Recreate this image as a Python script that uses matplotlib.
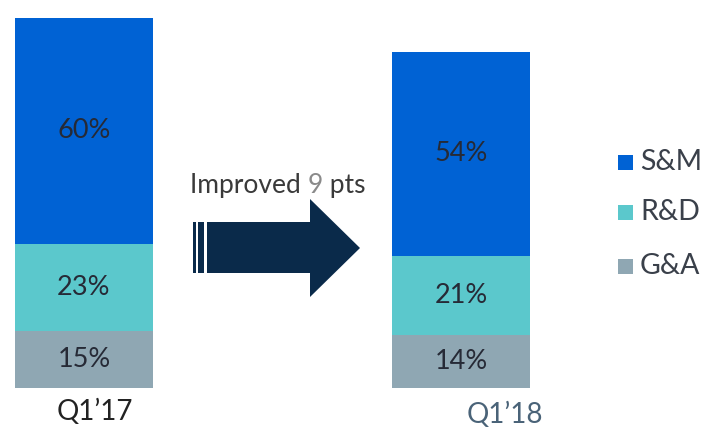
import matplotlib
matplotlib.use("Agg")
import matplotlib.pyplot as plt
from matplotlib.patches import Polygon, Rectangle
from matplotlib.transforms import blended_transform_factory

plt.rcParams['font.family'] = ['Lato', 'DejaVu Sans']

periods = ["Q1\u201917", "Q1\u201918"]
segments = ["G&A", "R&D", "S&M"]
gna = [15, 14]
rnd = [23, 21]
snm = [60, 54]
seg_values = [gna, rnd, snm]
seg_colors = ["#8FA7B3", "#5BC8CC", "#0062D4"]
period_colors = ["#222222", "#4A6378"]
arrow_label = ["Improved ", "9", " pts"]

W, H = 706, 430
fig = plt.figure(figsize=(W / 100, H / 100), dpi=100)
ax = fig.add_axes([0, 42 / H, 1, 388 / H])
ax.set_xlim(-84 / 377, (706 - 84) / 377)
ax.set_ylim(0, 388 / 3.78)
ax.axis("off")

x = [0, 1]
bw = 138 / 377
bottoms = [0, 0]
for vals, col in zip(seg_values, seg_colors):
    ax.bar(x, vals, bottom=bottoms, width=bw, color=col, linewidth=0)
    for i, v in enumerate(vals):
        ax.text(x[i], bottoms[i] + v / 2, f"{v}%", ha="center", va="center",
                fontsize=19.5, color="#262A36")
    bottoms = [b + v for b, v in zip(bottoms, vals)]

# period labels
trans = blended_transform_factory(ax.transData, fig.transFigure)
offsets = [0.03, 0.117]
ypos = [1 - 412 / H, 1 - 415 / H]
for i, p in enumerate(periods):
    ax.text(x[i] + offsets[i], ypos[i], p, transform=trans, ha="center", va="center",
            fontsize=20, color=period_colors[i])

# legend
for j, (lab, col) in enumerate(zip(reversed(segments), reversed(seg_colors))):
    yc = [162, 212, 266][j]
    fig.patches.append(Rectangle((618 / W, 1 - (yc + 7.5) / H), 15 / W, 15 / H,
                                 transform=fig.transFigure, color=col, linewidth=0))
    fig.text(640 / W, 1 - yc / H, lab, ha="left", va="center", fontsize=20.5,
             color="#3A404A")

# arrow
navy = "#0A2A4A"
def fx(px):
    return px / W
def fy(py):
    return 1 - py / H
for (x0, x1) in [(193, 196), (198, 204)]:
    fig.patches.append(Rectangle((fx(x0), fy(273)), (x1 - x0) / W, 51 / H,
                                 transform=fig.transFigure, color=navy, linewidth=0))
pts = [(207, 222), (310, 222), (310, 199), (360, 248), (310, 297), (310, 273), (207, 273)]
fig.patches.append(Polygon([(fx(a), fy(b)) for a, b in pts], closed=True,
                           transform=fig.transFigure, color=navy, linewidth=0))

# arrow text
t1 = fig.text(fx(190), fy(186), arrow_label[0], ha="left", va="center", fontsize=19,
              color="#3A3A3A")
fig.canvas.draw()
r = fig.canvas.get_renderer()
bb = t1.get_window_extent(r)
t2 = fig.text(bb.x1 / W, fy(186), arrow_label[1], ha="left", va="center", fontsize=19,
              color="#8A8A8A")
bb2 = t2.get_window_extent(r)
fig.text(bb2.x1 / W, fy(186), arrow_label[2], ha="left", va="center", fontsize=19,
         color="#3A3A3A")

fig.savefig("out.png", dpi=100)
